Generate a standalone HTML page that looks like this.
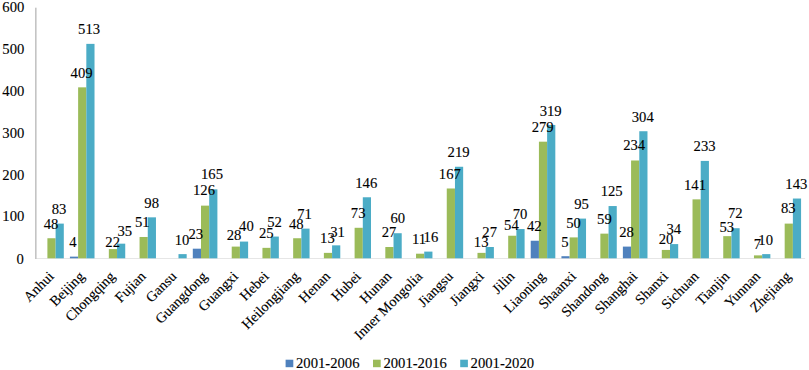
<!DOCTYPE html><html><head><meta charset="utf-8"><style>html,body{margin:0;padding:0;background:#fff;}svg{display:block;}text{font-family:"Liberation Serif",serif;font-size:14.67px;fill:#000;stroke:#000;stroke-width:0.12px;}</style></head><body>
<svg width="809" height="370" viewBox="0 0 809 370">
<rect width="809" height="370" fill="#fff"/>
<text x="23.80" y="263.60" text-anchor="end">0</text>
<text x="24.30" y="221.40" text-anchor="end">100</text>
<text x="24.30" y="179.60" text-anchor="end">200</text>
<text x="24.30" y="137.80" text-anchor="end">300</text>
<text x="24.30" y="96.00" text-anchor="end">400</text>
<text x="24.30" y="54.20" text-anchor="end">500</text>
<text x="24.30" y="12.40" text-anchor="end">600</text>
<rect x="36.14" y="258" width="769.00" height="1" fill="#e6e6e6"/>
<rect x="47.40" y="238.24" width="8.20" height="20.06" fill="#9BBB59"/>
<rect x="55.60" y="223.61" width="8.20" height="34.69" fill="#4BACC6"/>
<rect x="69.92" y="256.63" width="8.20" height="1.67" fill="#4F81BD"/>
<rect x="78.12" y="87.34" width="8.20" height="170.96" fill="#9BBB59"/>
<rect x="86.32" y="43.87" width="8.20" height="214.43" fill="#4BACC6"/>
<rect x="108.84" y="249.10" width="8.20" height="9.20" fill="#9BBB59"/>
<rect x="117.04" y="243.67" width="8.20" height="14.63" fill="#4BACC6"/>
<rect x="139.56" y="236.98" width="8.20" height="21.32" fill="#9BBB59"/>
<rect x="147.76" y="217.34" width="8.20" height="40.96" fill="#4BACC6"/>
<rect x="178.48" y="254.12" width="8.20" height="4.18" fill="#4BACC6"/>
<rect x="192.80" y="248.69" width="8.20" height="9.61" fill="#4F81BD"/>
<rect x="201.00" y="205.63" width="8.20" height="52.67" fill="#9BBB59"/>
<rect x="209.20" y="189.33" width="8.20" height="68.97" fill="#4BACC6"/>
<rect x="231.72" y="246.60" width="8.20" height="11.70" fill="#9BBB59"/>
<rect x="239.92" y="241.58" width="8.20" height="16.72" fill="#4BACC6"/>
<rect x="262.44" y="247.85" width="8.20" height="10.45" fill="#9BBB59"/>
<rect x="270.64" y="236.56" width="8.20" height="21.74" fill="#4BACC6"/>
<rect x="293.16" y="238.24" width="8.20" height="20.06" fill="#9BBB59"/>
<rect x="301.36" y="228.62" width="8.20" height="29.68" fill="#4BACC6"/>
<rect x="323.88" y="252.87" width="8.20" height="5.43" fill="#9BBB59"/>
<rect x="332.08" y="245.34" width="8.20" height="12.96" fill="#4BACC6"/>
<rect x="354.60" y="227.79" width="8.20" height="30.51" fill="#9BBB59"/>
<rect x="362.80" y="197.27" width="8.20" height="61.03" fill="#4BACC6"/>
<rect x="385.32" y="247.01" width="8.20" height="11.29" fill="#9BBB59"/>
<rect x="393.52" y="233.22" width="8.20" height="25.08" fill="#4BACC6"/>
<rect x="416.04" y="253.70" width="8.20" height="4.60" fill="#9BBB59"/>
<rect x="424.24" y="251.61" width="8.20" height="6.69" fill="#4BACC6"/>
<rect x="446.76" y="188.49" width="8.20" height="69.81" fill="#9BBB59"/>
<rect x="454.96" y="166.76" width="8.20" height="91.54" fill="#4BACC6"/>
<rect x="477.48" y="252.87" width="8.20" height="5.43" fill="#9BBB59"/>
<rect x="485.68" y="247.01" width="8.20" height="11.29" fill="#4BACC6"/>
<rect x="508.20" y="235.73" width="8.20" height="22.57" fill="#9BBB59"/>
<rect x="516.40" y="229.04" width="8.20" height="29.26" fill="#4BACC6"/>
<rect x="530.72" y="240.74" width="8.20" height="17.56" fill="#4F81BD"/>
<rect x="538.92" y="141.68" width="8.20" height="116.62" fill="#9BBB59"/>
<rect x="547.12" y="124.96" width="8.20" height="133.34" fill="#4BACC6"/>
<rect x="561.44" y="256.21" width="8.20" height="2.09" fill="#4F81BD"/>
<rect x="569.64" y="237.40" width="8.20" height="20.90" fill="#9BBB59"/>
<rect x="577.84" y="218.59" width="8.20" height="39.71" fill="#4BACC6"/>
<rect x="600.36" y="233.64" width="8.20" height="24.66" fill="#9BBB59"/>
<rect x="608.56" y="206.05" width="8.20" height="52.25" fill="#4BACC6"/>
<rect x="622.88" y="246.60" width="8.20" height="11.70" fill="#4F81BD"/>
<rect x="631.08" y="160.49" width="8.20" height="97.81" fill="#9BBB59"/>
<rect x="639.28" y="131.23" width="8.20" height="127.07" fill="#4BACC6"/>
<rect x="661.80" y="249.94" width="8.20" height="8.36" fill="#9BBB59"/>
<rect x="670.00" y="244.09" width="8.20" height="14.21" fill="#4BACC6"/>
<rect x="692.52" y="199.36" width="8.20" height="58.94" fill="#9BBB59"/>
<rect x="700.72" y="160.91" width="8.20" height="97.39" fill="#4BACC6"/>
<rect x="723.24" y="236.15" width="8.20" height="22.15" fill="#9BBB59"/>
<rect x="731.44" y="228.20" width="8.20" height="30.10" fill="#4BACC6"/>
<rect x="753.96" y="255.37" width="8.20" height="2.93" fill="#9BBB59"/>
<rect x="762.16" y="254.12" width="8.20" height="4.18" fill="#4BACC6"/>
<rect x="784.68" y="223.61" width="8.20" height="34.69" fill="#9BBB59"/>
<rect x="792.88" y="198.53" width="8.20" height="59.77" fill="#4BACC6"/>
<rect x="35" y="7.7" width="1.6" height="251.3" fill="#c4c4c4"/>
<text x="50.98" y="228.50" text-anchor="middle">48</text>
<text x="59.01" y="213.80" text-anchor="middle">83</text>
<text x="72.92" y="246.90" text-anchor="middle">4</text>
<text x="81.60" y="77.80" text-anchor="middle">409</text>
<text x="89.06" y="34.30" text-anchor="middle">513</text>
<text x="112.68" y="246.60" text-anchor="middle">22</text>
<text x="124.83" y="235.60" text-anchor="middle">35</text>
<text x="142.21" y="227.20" text-anchor="middle">51</text>
<text x="151.64" y="207.60" text-anchor="middle">98</text>
<text x="182.03" y="244.50" text-anchor="middle">10</text>
<text x="195.76" y="238.80" text-anchor="middle">23</text>
<text x="204.02" y="195.40" text-anchor="middle">126</text>
<text x="211.99" y="179.40" text-anchor="middle">165</text>
<text x="234.01" y="239.70" text-anchor="middle">28</text>
<text x="246.38" y="231.10" text-anchor="middle">40</text>
<text x="266.21" y="238.10" text-anchor="middle">25</text>
<text x="274.58" y="226.60" text-anchor="middle">52</text>
<text x="296.33" y="228.80" text-anchor="middle">48</text>
<text x="304.56" y="219.10" text-anchor="middle">71</text>
<text x="327.39" y="243.20" text-anchor="middle">13</text>
<text x="337.59" y="237.20" text-anchor="middle">31</text>
<text x="358.15" y="217.60" text-anchor="middle">73</text>
<text x="366.22" y="187.80" text-anchor="middle">146</text>
<text x="389.04" y="236.90" text-anchor="middle">27</text>
<text x="397.81" y="223.40" text-anchor="middle">60</text>
<text x="418.99" y="243.60" text-anchor="middle">11</text>
<text x="430.92" y="242.00" text-anchor="middle">16</text>
<text x="449.82" y="178.70" text-anchor="middle">167</text>
<text x="458.58" y="156.80" text-anchor="middle">219</text>
<text x="481.19" y="247.40" text-anchor="middle">13</text>
<text x="489.69" y="237.00" text-anchor="middle">27</text>
<text x="511.44" y="230.10" text-anchor="middle">54</text>
<text x="519.99" y="219.30" text-anchor="middle">70</text>
<text x="534.26" y="230.70" text-anchor="middle">42</text>
<text x="542.63" y="131.70" text-anchor="middle">279</text>
<text x="550.65" y="115.60" text-anchor="middle">319</text>
<text x="564.91" y="246.60" text-anchor="middle">5</text>
<text x="573.55" y="227.60" text-anchor="middle">50</text>
<text x="581.60" y="209.20" text-anchor="middle">95</text>
<text x="604.38" y="223.90" text-anchor="middle">59</text>
<text x="611.69" y="196.20" text-anchor="middle">125</text>
<text x="626.51" y="237.00" text-anchor="middle">28</text>
<text x="634.19" y="150.40" text-anchor="middle">234</text>
<text x="642.72" y="121.60" text-anchor="middle">304</text>
<text x="666.06" y="244.10" text-anchor="middle">20</text>
<text x="673.87" y="234.20" text-anchor="middle">34</text>
<text x="694.99" y="189.60" text-anchor="middle">141</text>
<text x="704.61" y="151.20" text-anchor="middle">233</text>
<text x="726.81" y="232.00" text-anchor="middle">53</text>
<text x="735.32" y="218.40" text-anchor="middle">72</text>
<text x="757.43" y="249.10" text-anchor="middle">7</text>
<text x="765.63" y="244.60" text-anchor="middle">10</text>
<text x="788.36" y="213.40" text-anchor="middle">83</text>
<text x="796.29" y="188.90" text-anchor="middle">143</text>
<text x="54.50" y="277.30" text-anchor="end" style="font-size:14.30px" transform="rotate(-45 54.50 277.30)">Anhui</text>
<text x="85.22" y="277.30" text-anchor="end" style="font-size:14.30px" transform="rotate(-45 85.22 277.30)">Beijing</text>
<text x="115.94" y="277.30" text-anchor="end" style="font-size:14.30px" transform="rotate(-45 115.94 277.30)">Chongqing</text>
<text x="146.66" y="277.30" text-anchor="end" style="font-size:14.30px" transform="rotate(-45 146.66 277.30)">Fujian</text>
<text x="177.38" y="277.30" text-anchor="end" style="font-size:14.30px" transform="rotate(-45 177.38 277.30)">Gansu</text>
<text x="208.10" y="277.30" text-anchor="end" style="font-size:14.30px" transform="rotate(-45 208.10 277.30)">Guangdong</text>
<text x="238.82" y="277.30" text-anchor="end" style="font-size:14.30px" transform="rotate(-45 238.82 277.30)">Guangxi</text>
<text x="269.54" y="277.30" text-anchor="end" style="font-size:14.30px" transform="rotate(-45 269.54 277.30)">Hebei</text>
<text x="300.26" y="277.30" text-anchor="end" style="font-size:14.30px" transform="rotate(-45 300.26 277.30)">Heilongjiang</text>
<text x="330.98" y="277.30" text-anchor="end" style="font-size:14.30px" transform="rotate(-45 330.98 277.30)">Henan</text>
<text x="361.70" y="277.30" text-anchor="end" style="font-size:14.30px" transform="rotate(-45 361.70 277.30)">Hubei</text>
<text x="392.42" y="277.30" text-anchor="end" style="font-size:14.30px" transform="rotate(-45 392.42 277.30)">Hunan</text>
<text x="423.14" y="277.30" text-anchor="end" style="font-size:14.30px" transform="rotate(-45 423.14 277.30)">Inner Mongolia</text>
<text x="453.86" y="277.30" text-anchor="end" style="font-size:14.30px" transform="rotate(-45 453.86 277.30)">Jiangsu</text>
<text x="484.58" y="277.30" text-anchor="end" style="font-size:14.30px" transform="rotate(-45 484.58 277.30)">Jiangxi</text>
<text x="515.30" y="277.30" text-anchor="end" style="font-size:14.30px" transform="rotate(-45 515.30 277.30)">Jilin</text>
<text x="546.02" y="277.30" text-anchor="end" style="font-size:14.30px" transform="rotate(-45 546.02 277.30)">Liaoning</text>
<text x="576.74" y="277.30" text-anchor="end" style="font-size:14.30px" transform="rotate(-45 576.74 277.30)">Shaanxi</text>
<text x="607.46" y="277.30" text-anchor="end" style="font-size:14.30px" transform="rotate(-45 607.46 277.30)">Shandong</text>
<text x="638.18" y="277.30" text-anchor="end" style="font-size:14.30px" transform="rotate(-45 638.18 277.30)">Shanghai</text>
<text x="668.90" y="277.30" text-anchor="end" style="font-size:14.30px" transform="rotate(-45 668.90 277.30)">Shanxi</text>
<text x="699.62" y="277.30" text-anchor="end" style="font-size:14.30px" transform="rotate(-45 699.62 277.30)">Sichuan</text>
<text x="730.34" y="277.30" text-anchor="end" style="font-size:14.30px" transform="rotate(-45 730.34 277.30)">Tianjin</text>
<text x="761.06" y="277.30" text-anchor="end" style="font-size:14.30px" transform="rotate(-45 761.06 277.30)">Yunnan</text>
<text x="791.78" y="277.30" text-anchor="end" style="font-size:14.30px" transform="rotate(-45 791.78 277.30)">Zhejiang</text>
<rect x="285.60" y="359.7" width="7.7" height="7.5" fill="#4F81BD"/>
<text x="296.00" y="367.9">2001-2006</text>
<rect x="373.00" y="359.7" width="7.7" height="7.5" fill="#9BBB59"/>
<text x="383.40" y="367.9">2001-2016</text>
<rect x="460.20" y="359.7" width="7.7" height="7.5" fill="#4BACC6"/>
<text x="470.60" y="367.9">2001-2020</text>
</svg></body></html>
